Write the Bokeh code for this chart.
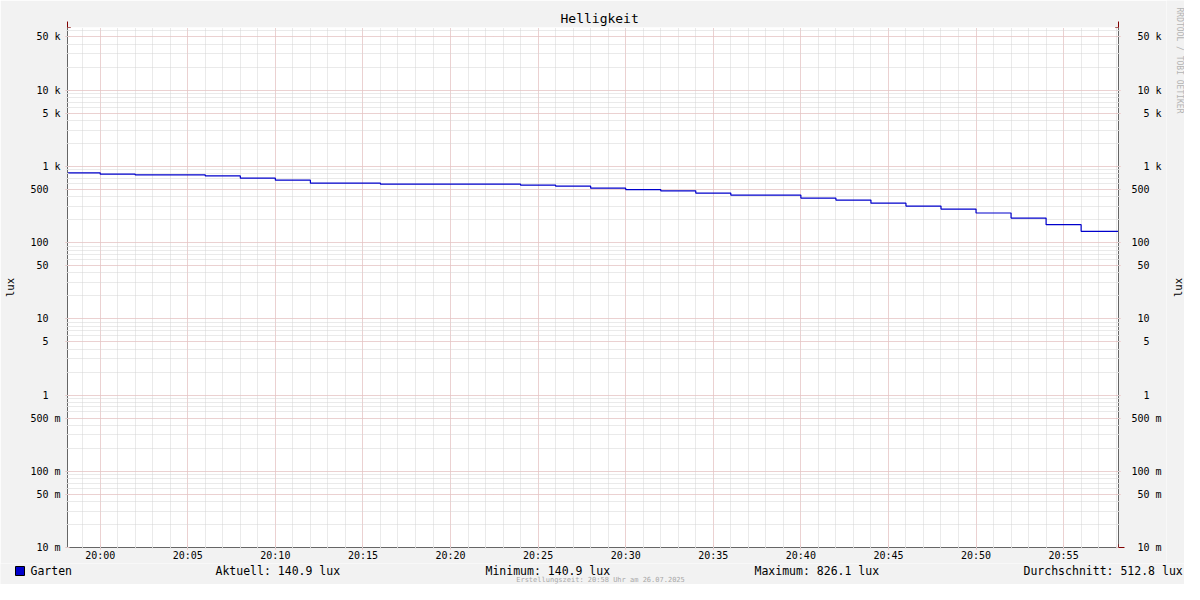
from datetime import datetime, timedelta
from bokeh.plotting import figure
from bokeh.layouts import column, row
from bokeh.models import (Range1d, FixedTicker, LogAxis, Arrow, NormalHead,
                          DatetimeTickFormatter)
from bokeh.core.properties import value
from bokeh.embed import file_html
from bokeh.resources import INLINE

# ---------------- data ----------------
title_text = "Helligkeit"
series_name = "Garten"
unit_label = "lux"
day = "2025-07-26"
times = ["19:58", "20:00", "20:02", "20:04", "20:06", "20:08", "20:10", "20:12",
         "20:14", "20:16", "20:18", "20:20", "20:22", "20:24", "20:26", "20:28",
         "20:30", "20:32", "20:34", "20:36", "20:38", "20:40", "20:42", "20:44",
         "20:46", "20:48", "20:50", "20:52", "20:54", "20:56"]
lux = [826.1, 791, 774, 774, 752, 702, 661, 604, 604, 586, 586, 586, 586, 568,
       551, 519, 498, 479, 447, 421, 421, 385, 362, 330, 302, 276, 245, 210, 172,
       140.9]
window_start = "19:58:08"
window_end = "20:58:08"
y_tick_values = [0.01, 0.05, 0.1, 0.5, 1, 5, 10, 50, 100, 500, 1000, 5000, 10000, 50000]
y_tick_labels = ["10 m", "50 m", "100 m", "500 m", "1", "5", "10", "50", "100", "500",
                 "1 k", "5 k", "10 k", "50 k"]
stat_labels = ["Aktuell: 140.9 lux", "Minimum: 140.9 lux", "Maximum: 826.1 lux",
               "Durchschnitt: 512.8 lux"]
footer_text = "Erstellungszeit: 20:58 Uhr am 26.07.2025"
watermark_text = "RRDTOOL / TOBI OETIKER"

# ---------------- styling / layout ----------------
FONT = "DejaVu Sans Mono"
BG = "#f2f2f2"
AXIS = "#666666"
ARROW = "#800000"
MGRID = "#ecb8b8"
GRID = "#d4d4d4"
LINE = "#0000cc"

W, H = 1184, 584          # whole picture
MAIN_W, MAIN_H = 1166, 563
FR_L, FR_R, FR_T, FR_B = 67, 1118, 27, 549   # plot frame in pixels


def no_align(fig):
    try:
        fig.frame_align = False
    except AttributeError:
        pass


def ts(hms):
    fmt = "%Y-%m-%d %H:%M:%S" if hms.count(":") == 2 else "%Y-%m-%d %H:%M"
    return datetime.strptime(f"{day} {hms}", fmt)


EPOCH = datetime(1970, 1, 1)


def ms(dt):
    return (dt - EPOCH).total_seconds() * 1000.0


t0, t1 = ts(window_start), ts(window_end)
xs = [ts(t) for t in times] + [t1]
ys = lux + [lux[-1]]

Y_TOP = 66600
p = figure(width=MAIN_W, height=MAIN_H, x_axis_type="datetime", y_axis_type="log",
           x_range=Range1d(t0, t1), y_range=Range1d(0.01, Y_TOP),
           output_backend="svg", toolbar_location=None,
           min_border_left=FR_L, min_border_right=MAIN_W - FR_R,
           min_border_top=FR_T, min_border_bottom=MAIN_H - FR_B,
           background_fill_color="white", border_fill_color=BG,
           title=title_text)
no_align(p)
p.outline_line_color = None
p.title.align = "left"
p.title.offset = 560 - FR_L
p.title.standoff = 3
p.title.text_font = FONT
p.title.text_font_size = "13px"
p.title.text_font_style = "normal"
p.title.text_color = "black"

# x ticks
base = datetime(2025, 7, 26, 19, 55)
x_major = [ms(base + timedelta(minutes=5 * i)) for i in range(14)]
x_minor = [ms(base + timedelta(minutes=i)) for i in range(66)]
p.xaxis.ticker = FixedTicker(ticks=x_major, minor_ticks=x_minor)
p.xaxis.formatter = DatetimeTickFormatter(minutes="%H:%M", hourmin="%H:%M", hours="%H:%M",
                                          minsec="%H:%M", seconds="%H:%M")

# y ticks
y_minor = [m * 10.0 ** k for k in range(-2, 5) for m in range(1, 10)]
yt = FixedTicker(ticks=y_tick_values, minor_ticks=y_minor)


def pad(lab):
    parts = lab.split(" ")
    num = parts[0]
    suf = parts[1] if len(parts) > 1 else " "
    return f"{num:>3} {suf}".replace(" ", "\u00a0")


overrides = {v: pad(l) for v, l in zip(y_tick_values, y_tick_labels)}
p.yaxis.ticker = yt
p.yaxis.major_label_overrides = overrides
right_axis = LogAxis(ticker=yt, major_label_overrides=overrides)
p.add_layout(right_axis, "right")

for ax in [p.xaxis[0], p.yaxis[0], right_axis]:
    ax.axis_line_color = AXIS
    ax.axis_line_width = 1
    ax.major_tick_line_color = MGRID
    ax.major_tick_in = 2
    ax.major_tick_out = 2
    ax.minor_tick_line_color = GRID
    ax.minor_tick_in = 1
    ax.minor_tick_out = 1
    ax.major_label_text_font = FONT
    ax.major_label_text_font_size = "10px"
    ax.major_label_text_color = "black"
p.yaxis[0].major_label_standoff = 5
right_axis.major_label_standoff = 11
p.xaxis[0].major_label_standoff = 0

p.yaxis[0].axis_label = unit_label
p.yaxis[0].axis_label_standoff = 11
p.yaxis[0].axis_label_text_font = FONT
p.yaxis[0].axis_label_text_font_size = "10.5px"
p.yaxis[0].axis_label_text_font_style = "normal"
p.yaxis[0].axis_label_text_color = "black"

for g in [p.xgrid[0], p.ygrid[0]]:
    g.grid_line_color = MGRID
    g.grid_line_dash = "1 1"
    g.grid_line_width = 1
    g.minor_grid_line_color = GRID
    g.minor_grid_line_dash = "1 1"
    g.minor_grid_line_width = 1

# series
p.step(xs, ys, mode="after", line_color=LINE, line_width=1.2)

# axis arrows
up = 10 ** (6 / 76.5)
for xa in [t0, t1]:
    p.add_layout(Arrow(end=NormalHead(size=6, fill_color=ARROW, line_color=ARROW, line_width=1),
                       x_start=ms(xa), y_start=Y_TOP, x_end=ms(xa), y_end=Y_TOP * up,
                       line_color=ARROW, line_width=1))
p.add_layout(Arrow(end=NormalHead(size=6, fill_color=ARROW, line_color=ARROW, line_width=1),
                   x_start=ms(t1), y_start=0.01, x_end=ms(t1) + 20500, y_end=0.01,
                   line_color=ARROW, line_width=1))


# ---------- strips for texts outside the plot (pixel coordinates, y down) ----------
def strip(x0, x1, y0, y1):
    s = figure(width=x1 - x0, height=y1 - y0, x_range=Range1d(x0, x1),
               y_range=Range1d(y1, y0), output_backend="svg", toolbar_location=None,
               min_border=0, min_border_left=0, min_border_right=0,
               min_border_top=0, min_border_bottom=0,
               x_axis_location=None, y_axis_location=None,
               background_fill_color=BG, border_fill_color=BG)
    no_align(s)
    s.grid.visible = False
    s.outline_line_color = None
    return s


rs = strip(MAIN_W, W, 0, MAIN_H)
rs.text(x=[1177.5], y=[287], text=[unit_label], angle=[1.5708],
        text_font=value(FONT), text_font_size="10.5px", text_color="black",
        text_align="center", text_baseline="middle")
rs.text(x=[1179], y=[60], text=[watermark_text], angle=[-1.5708],
        text_font=value(FONT), text_font_size="8px", text_color="#b4b4b4",
        text_align="center", text_baseline="middle")

bs = strip(0, W, MAIN_H, H)
bs.quad(left=[15], right=[24], top=[566], bottom=[575],
        fill_color=LINE, line_color="black", line_width=1)
bs.text(x=[30, 215, 485, 754, 1023], y=[570.2] * 5, text=[series_name] + stat_labels,
        text_font=value(FONT), text_font_size="11.5px", text_color="black",
        text_align="left", text_baseline="middle")
bs.text(x=[600], y=[579.8], text=[footer_text],
        text_font=value(FONT), text_font_size="7px", text_color="#a8a8a8",
        text_align="center", text_baseline="middle")

layout = column(row(p, rs), bs)
open("out.html", "w").write(file_html(layout, INLINE))
